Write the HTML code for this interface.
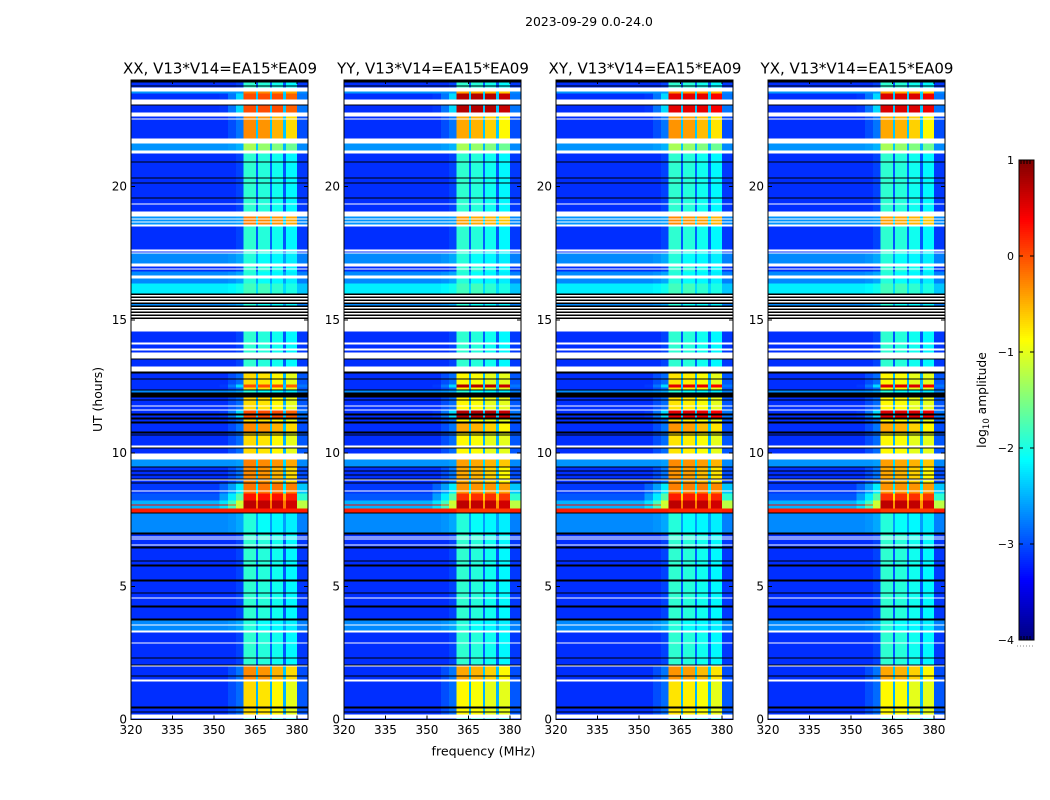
<!DOCTYPE html>
<html lang="en">
<head>
<meta charset="utf-8">
<title>2023-09-29 0.0-24.0</title>
<style>
html,body{margin:0;padding:0;background:#fff;width:1050px;height:800px;overflow:hidden}
svg{display:block}
text{font-family:"DejaVu Sans","Liberation Sans",sans-serif;fill:#000}
</style>
</head>
<body>
<svg id="figure" xmlns="http://www.w3.org/2000/svg" width="1050" height="800" viewBox="0 0 1050 800">
  <rect x="0" y="0" width="1050" height="800" fill="#fff"/>
  <text x="589" y="26" font-size="12.4" text-anchor="middle">2023-09-29 0.0-24.0</text>
  <text x="483.5" y="755.5" font-size="12.6" text-anchor="middle">frequency (MHz)</text>
  <text x="102" y="399.5" font-size="12.4" text-anchor="middle" transform="rotate(-90 102 399.5)">UT (hours)</text>
  <text x="986" y="400" font-size="12.3" text-anchor="middle" transform="rotate(-90 986 400)">log<tspan font-size="8.5" dy="3">10</tspan><tspan dy="-3"> amplitude</tspan></text>
</svg>
<script>
// Axis values
const freqTicks = [320, 335, 350, 365, 380];
const utTicks = [0, 5, 10, 15, 20];
const colorTicks = [1, 0, -1, -2, -3, -4];
const panelTitles = ['XX, V13*V14=EA15*EA09', 'YY, V13*V14=EA15*EA09', 'XY, V13*V14=EA15*EA09', 'YX, V13*V14=EA15*EA09'];

// Frequency channel boundaries (MHz): background, band shoulder, four subbands with gaps, upper edge
const channelEdges = [320, 352, 355, 358, 360.6, 365.2, 366, 370.2, 371, 375, 376, 380, 384];

// log10 amplitude per channel for each kind of time row
const quietCyan   = [-3.15, -3.15, -3.15, -3.05, -1.9, -2.95, -1.95, -2.9, -2.05, -2.95, -2.15, -3.1];
const quietOrange = [-3.15, -3.15, -3.0, -2.8, -0.3, -2.4, -0.35, -2.4, -0.5, -2.4, -0.7, -3.0];
const quietYellow = [-3.15, -3.15, -3.0, -2.85, -0.7, -2.5, -0.75, -2.5, -0.85, -2.5, -1.0, -2.95];
const flareBand   = [-3.15, -3.1, -2.8, -2.3, 0.0, -2.4, 0.0, -2.4, 0.0, -2.4, -0.1, -2.8];
const lightOrange = [-2.65, -2.65, -2.65, -2.6, -0.25, -2.3, -0.3, -2.3, -0.35, -2.3, -0.45, -2.7];
const lightGreen  = [-2.65, -2.65, -2.6, -2.5, -1.3, -2.4, -1.4, -2.5, -1.5, -2.5, -1.6, -2.7];
const lightCyan   = [-2.7, -2.7, -2.65, -2.55, -1.95, -2.6, -2.1, -2.6, -2.15, -2.6, -2.2, -2.75];
const noisyGreen  = [-2.2, -2.2, -2.15, -2.05, -1.8, -2.3, -1.8, -2.3, -1.9, -2.3, -2.0, -2.4];
const orangeEdge  = [-3.1, -2.9, -2.6, -2.2, -0.2, -2.2, -0.2, -2.2, -0.2, -2.2, -0.25, -2.4];
const hotBand     = [-2.95, -2.6, -2.2, -1.7, 0.3, -0.6, 0.3, -0.5, 0.3, -0.5, 0.25, -1.9];
const scorchBand  = [-2.5, -2.25, -1.8, -1.1, 0.7, -0.2, 0.68, -0.2, 0.68, -0.2, 0.6, -1.2];
const redThin     = [0.4, 0.4, 0.0, -1.2, 0.7, -0.2, 0.68, -0.2, 0.68, -0.2, 0.6, -1.2];
const redLine     = [0.25, 0.25, 0.25, 0.25, 0.25, 0.25, 0.25, 0.25, 0.25, 0.25, 0.25, 0.25];
const flaggedRow  = [null, null, null, null, null, null, null, null, null, null, null, null];
const zeroRow     = [-9, -9, -9, -9, -9, -9, -9, -9, -9, -9, -9, -9];

// Start hour of each time row, top of the plot downward
const rowStarts = [
  24.00, 23.98, 23.91, 23.79, 23.76, 23.72, 23.57, 23.50, 23.27, 23.08,
  23.04, 22.78, 22.63, 22.56, 22.52, 21.80, 21.62, 21.35, 21.24, 20.94,
  20.90, 20.34, 20.30, 20.15, 20.12, 19.59, 19.55, 19.37, 19.33, 19.07,
  18.88, 18.80, 18.77, 18.69, 18.65, 18.58, 18.50, 17.64, 17.56, 17.53,
  17.49, 17.11, 17.00, 16.93, 16.89, 16.81, 16.66, 16.55, 16.36, 15.99,
  15.93, 15.88, 15.82, 15.76, 15.70, 15.65, 15.60, 15.54, 15.48, 15.42,
  15.37, 15.31, 15.25, 15.20, 15.14, 15.09, 15.03, 14.56, 14.15, 14.07,
  13.92, 13.85, 13.77, 13.55, 13.51, 13.25, 13.06, 12.99, 12.80, 12.76,
  12.57, 12.46, 12.38, 12.35, 12.27, 12.08, 12.01, 11.97, 11.78, 11.75,
  11.63, 11.60, 11.48, 11.41, 11.33, 11.26, 11.18, 11.11, 10.81, 10.73,
  10.70, 10.66, 10.28, 10.21, 10.17, 9.98, 9.76, 9.49, 9.46, 9.34,
  9.31, 9.19, 9.16, 9.04, 9.01, 8.97, 8.89, 8.86, 8.59, 8.56,
  8.48, 8.22, 8.07, 8.03, 7.92, 7.77, 7.73, 7.02, 6.94, 6.87,
  6.83, 6.79, 6.76, 6.57, 6.53, 6.49, 6.42, 5.97, 5.93, 5.82,
  5.74, 5.25, 5.18, 4.77, 4.73, 4.58, 4.54, 4.28, 4.20, 3.79,
  3.72, 3.57, 3.53, 3.34, 3.27, 2.89, 2.85, 2.33, 2.29, 2.06,
  2.03, 1.99, 1.65, 1.61, 1.50, 1.43, 0.49, 0.41, 0.30, 0.26,
  0.19, 0.04
];

// Which channel profile each time row uses (same order as rowStarts)
const rowKinds = (
  'Q B Q B Q W L F W B ' +
  'F W O W O W G W Q B ' +
  'Q B Q B Q B Q W Q W ' +
  'L W L W L W Q W Q W ' +
  'C W Q W Q C W C N B ' +
  'W B W B W B C B W B ' +
  'W B W B W B W Q W Q ' +
  'W Q W B Q W B Y B Y ' +
  'F Y B C B Y B Y W Y ' +
  'W F B F B Y B O B Y ' +
  'B Y W B Y W L B O B ' +
  'O B O B W O B E W E ' +
  'H S T S R B C B Q W ' +
  'Q W Q W Q B Q B Q B ' +
  'Q B Q B Q W Q B Q B ' +
  'C W C W Q W Q B Q B ' +
  'W O B O W Y B Y B Y ' +
  'W Q'
).split(' ');

// Per-polarisation shift of the strong subbands (log10 amplitude)
const panelBandBoost = [0, -0.15, -0.05, -0.15];
const panelFlareBoost = [0, 0.75, 0.5, 0.55];

const profileByKind = {
  Q: quietCyan, O: quietOrange, Y: quietYellow, F: flareBand, L: lightOrange, G: lightGreen,
  C: lightCyan, N: noisyGreen, E: orangeEdge, H: hotBand, S: scorchBand,
  T: redThin, R: redLine, W: flaggedRow, B: zeroRow
};

// Layout
const SVG_NS = 'http://www.w3.org/2000/svg';
const figure = document.getElementById('figure');
const panelLefts = [131, 344, 556, 768];
const panelWidth = 177;
const plotTop = 80;
const plotBottom = 719.5;
const barLeft = 1019, barRight = 1034, barTop = 160, barBottom = 640;
const firstBandChannel = 4, lastBandChannel = 10;

function xAxis(left, mhz) { return left + (mhz - 320) / (384 - 320) * panelWidth; }
function yAxis(hour) { return plotBottom - hour / 24 * (plotBottom - plotTop); }
function barAxis(level) { return barBottom - (level + 4) / 5 * (barBottom - barTop); }

function jetChannel(t, centre) {
  return Math.max(0, Math.min(1, 1.5 - Math.abs(4 * t - centre)));
}
function levelColor(level) {
  if (level <= -9) return '#000';
  const t = Math.max(0, Math.min(1, (level + 4) / 5));
  const r = Math.round(255 * jetChannel(t, 3));
  const g = Math.round(255 * jetChannel(t, 2));
  const b = Math.round(255 * jetChannel(t, 1));
  return 'rgb(' + r + ',' + g + ',' + b + ')';
}
function make(tag, attrs, parent) {
  const el = document.createElementNS(SVG_NS, tag);
  for (const k in attrs) el.setAttribute(k, attrs[k]);
  parent.appendChild(el);
  return el;
}

panelTitles.forEach(function (title, p) {
  const left = panelLefts[p];
  const right = left + panelWidth;
  const panel = make('g', {}, figure);
  
  

  rowStarts.forEach(function (start, i) {
    const kind = rowKinds[i];
    const profile = profileByKind[kind];
    const end = i + 1 < rowStarts.length ? rowStarts[i + 1] : 0;
    for (let c = 0; c < channelEdges.length - 1; c++) {
      let level = profile[c];
      if (level === null) continue;
      if (level > -0.9 && c >= firstBandChannel && c <= lastBandChannel) {
        level += kind === 'F' ? panelFlareBoost[p] : (level < 0.6 ? panelBandBoost[p] : 0);
      }
      const x0 = xAxis(left, channelEdges[c]);
      const x1 = xAxis(left, channelEdges[c + 1]);
      const cell = make('rect', {
        x: x0.toFixed(2), y: yAxis(start).toFixed(2),
        width: (x1 - x0).toFixed(2), height: (yAxis(end) - yAxis(start)).toFixed(2),
        fill: levelColor(level), 'shape-rendering': 'crispEdges'
      }, panel);
      
      
    }
  });

  const frame = make('rect', {
    x: left, y: plotTop, width: panelWidth, height: plotBottom - plotTop,
    fill: 'none', stroke: '#000', 'stroke-width': 1, 'shape-rendering': 'crispEdges'
  }, panel);
  
  

  freqTicks.forEach(function (f) {
    const x = xAxis(left, f);
    const low = make('line', { x1: x, x2: x, y1: plotBottom, y2: plotBottom - 4, stroke: '#000', 'shape-rendering': 'crispEdges' }, panel);
    
    
    const high = make('line', { x1: x, x2: x, y1: plotTop, y2: plotTop + 4, stroke: '#000', 'shape-rendering': 'crispEdges' }, panel);
    
    
    const label = make('text', { x: x, y: plotBottom + 14.5, 'font-size': 12, 'text-anchor': 'middle' }, panel);
    label.textContent = String(f);
    
    
  });

  utTicks.forEach(function (h) {
    const y = yAxis(h);
    const a = make('line', { x1: left, x2: left + 4, y1: y, y2: y, stroke: '#000', 'shape-rendering': 'crispEdges' }, panel);
    
    
    const b = make('line', { x1: right, x2: right - 4, y1: y, y2: y, stroke: '#000', 'shape-rendering': 'crispEdges' }, panel);
    
    
    const label = make('text', { x: left - 4, y: y + 4, 'font-size': 12, 'text-anchor': 'end' }, panel);
    label.textContent = String(h);
    
    
  });

  const heading = make('text', { x: left + panelWidth / 2 + 0.5, y: 73.5, 'font-size': 15, 'text-anchor': 'middle' }, panel);
  heading.textContent = title;
  
  
});

// Colorbar
const bar = make('g', {}, figure);


const barSteps = 240;
for (let i = 0; i < barSteps; i++) {
  const lo = -4 + 5 * i / barSteps;
  const hi = -4 + 5 * (i + 1) / barSteps;
  const step = make('rect', {
    x: barLeft, y: barAxis(hi), width: barRight - barLeft, height: barAxis(lo) - barAxis(hi),
    fill: levelColor((lo + hi) / 2), 'shape-rendering': 'crispEdges'
  }, bar);
  
  
}
const barFrame = make('rect', {
  x: barLeft, y: barTop, width: barRight - barLeft, height: barBottom - barTop,
  fill: 'none', stroke: '#000', 'shape-rendering': 'crispEdges'
}, bar);


colorTicks.forEach(function (v) {
  const y = barAxis(v);
  const a = make('line', { x1: barLeft, x2: barLeft + 4, y1: y, y2: y, stroke: '#000', 'shape-rendering': 'crispEdges' }, bar);
  
  
  const b = make('line', { x1: barRight, x2: barRight - 4, y1: y, y2: y, stroke: '#000', 'shape-rendering': 'crispEdges' }, bar);
  
  
  const label = make('text', { x: barLeft - 5, y: y + 4, 'font-size': 11, 'text-anchor': 'end' }, bar);
  label.textContent = String(v).replace('-', '\u2212');
  
  
});
for (let x = barLeft + 2; x < barRight - 1; x += 3) {
  const top = make('line', { x1: x, x2: x, y1: barTop, y2: barTop + 4, stroke: '#000', 'shape-rendering': 'crispEdges' }, bar);
  
  
  const bottom = make('line', { x1: x, x2: x, y1: barBottom, y2: barBottom - 4, stroke: '#000', 'shape-rendering': 'crispEdges' }, bar);
  
  
}
const dots = make('line', {
  x1: barLeft - 2, x2: barRight + 1, y1: barBottom + 6, y2: barBottom + 6,
  stroke: '#888', 'stroke-dasharray': '1 2', 'shape-rendering': 'crispEdges'
}, bar);


</script>
</body>
</html>
